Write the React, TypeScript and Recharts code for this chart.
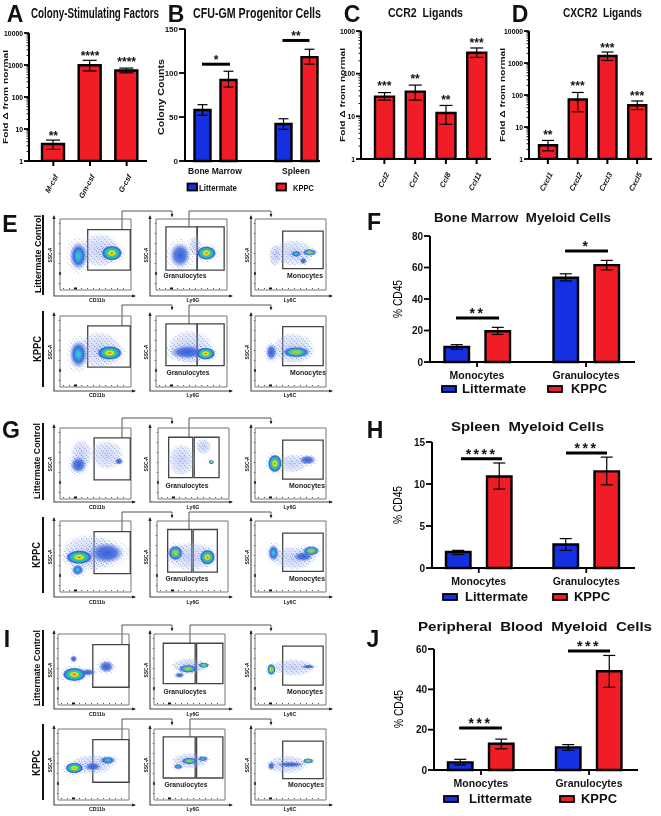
import React from "react";
import {
  BarChart,
  Bar,
  ErrorBar,
  XAxis,
  YAxis,
  ReferenceLine,
  ReferenceDot,
  ReferenceArea,
  ScatterChart,
  Scatter,
} from "recharts";

const SANS = '"Liberation Sans", Arial, sans-serif';
const NARROW = '"Liberation Sans Narrow", "Liberation Sans", Arial, sans-serif';
const RED = "#f01c26";
const BLUE = "#1530e0";

// ---- bar panels: fold change (log axes) ----
const aCategories = ["M-csf", "Gm-csf", "G-csf"];
const aValues = [3.4, 980, 670];
const aLows = [2.3, 650, 570];
const aHighs = [4.5, 1400, 800];
const aStars = ["**", "****", "****"];
const aStarLevels = [7.5, 2370, 1550];

const cCategories = ["Ccl2", "Ccl7", "Ccl8", "Ccl11"];
const cValues = [29, 38, 12, 310];
const cLows = [24, 24, 6.5, 240];
const cHighs = [36, 54, 18, 400];
const cStars = ["***", "**", "**", "***"];
const cStarLevels = [60, 88, 28, 616];

const dCategories = ["Cxcl1", "Cxcl2", "Cxcl3", "Cxcl5"];
const dValues = [2.7, 72, 1650, 48];
const dLows = [1.8, 30, 1200, 35];
const dHighs = [3.8, 120, 2200, 65];
const dStars = ["**", "***", "***", "***"];
const dStarLevels = [7, 237, 3650, 115];

// ---- bar panels: littermate vs KPPC ----
// sig spans are fractions of the plot width
const bCategories = ["Bone Marrow", "Spleen"];
const bLittermate = [58, 42];
const bLittermateLows = [52, 36];
const bLittermateHighs = [64, 48];
const bKppc = [92, 118];
const bKppcLows = [84, 110];
const bKppcHighs = [102, 127];
const bSig = [
  { from: 0.126, to: 0.333, level: 110, stars: "*" },
  { from: 0.722, to: 0.922, level: 137, stars: "**" },
];

const cellCategories = ["Monocytes", "Granulocytes"];

const fLittermate = [9.5, 53.5];
const fLittermateLows = [8, 51.5];
const fLittermateHighs = [11, 56];
const fKppc = [19.5, 61.5];
const fKppcLows = [17.5, 58.5];
const fKppcHighs = [22, 64.5];
const fSig = [
  { from: 0.127, to: 0.337, level: 28, stars: "**" },
  { from: 0.659, to: 0.868, level: 70.5, stars: "*" },
];

const hLittermate = [1.9, 2.8];
const hLittermateLows = [1.6, 2.1];
const hLittermateHighs = [2.1, 3.5];
const hKppc = [10.9, 11.5];
const hKppcLows = [9.4, 9.9];
const hKppcHighs = [12.5, 13.2];
const hSig = [
  { from: 0.143, to: 0.345, level: 13, stars: "****" },
  { from: 0.66, to: 0.862, level: 13.7, stars: "***" },
];

const jLittermate = [3.8, 11.2];
const jLittermateLows = [2.5, 9.8];
const jLittermateHighs = [5.3, 12.6];
const jKppc = [13, 49];
const jKppcLows = [10.5, 41];
const jKppcHighs = [15.3, 56.8];
const jSig = [
  { from: 0.123, to: 0.333, level: 20.8, stars: "***" },
  { from: 0.657, to: 0.863, level: 59, stars: "***" },
];

// ---- flow plots: population centre x, y, spread x, spread y, density level ----
type Blob = [number, number, number, number, number];
type Gate = [number, number, number, number];

const eLittermateBlobs: Blob[][] = [
  [[56, 56, 30, 26, 0], [26, 48, 13, 20, 2], [73, 52, 15, 11, 4]],
  [[55, 62, 10, 16, 0], [34, 49, 15, 18, 1], [71, 52, 14, 10, 4]],
  [[54, 52, 32, 20, 0], [28, 49, 9, 17, 0], [58, 51, 8, 5, 2], [68, 41, 5, 5, 1], [77, 53, 10, 5, 3]],
];
const eKppcBlobs: Blob[][] = [
  [[56, 52, 34, 28, 0], [26, 46, 13, 20, 2], [70, 48, 18, 10, 4]],
  [[48, 56, 35, 26, 0], [44, 49, 25, 10, 1], [70, 47, 14, 9, 4]],
  [[54, 54, 32, 24, 0], [23, 49, 8, 12, 1], [58, 49, 20, 8, 3]],
];
const gLittermateBlobs: Blob[][] = [
  [[30, 64, 16, 21, 0], [66, 62, 25, 22, 0], [26, 48, 12, 12, 1], [83, 53, 6, 5, 1]],
  [[33, 55, 20, 24, 0], [64, 74, 12, 12, 0], [75, 52, 4, 3, 3]],
  [[53, 50, 23, 14, 0], [74, 55, 12, 7, 1], [28, 50, 10, 13, 4]],
];
const gKppcBlobs: Blob[][] = [
  [[42, 55, 44, 28, 0], [66, 55, 25, 15, 1], [25, 31, 9, 8, 2], [27, 49, 19, 10, 4]],
  [[49, 50, 38, 22, 0], [26, 55, 11, 11, 3], [71, 49, 11, 11, 4]],
  [[54, 48, 32, 18, 0], [68, 50, 14, 7, 1], [26, 55, 8, 12, 2], [79, 58, 12, 7, 3]],
];
const iLittermateBlobs: Blob[][] = [
  [[42, 46, 11, 5, 1], [22, 65, 5, 5, 1], [68, 54, 11, 9, 1], [23, 43, 17, 10, 4]],
  [[50, 55, 28, 12, 0], [36, 42, 7, 4, 1], [48, 51, 14, 6, 3], [70, 56, 8, 4, 3]],
  [[54, 53, 33, 13, 0], [75, 54, 10, 3, 1], [23, 50, 6, 8, 4]],
];
const iKppcBlobs: Blob[][] = [
  [[48, 50, 33, 15, 0], [49, 47, 12, 6, 1], [70, 56, 12, 6, 2], [23, 45, 13, 8, 4]],
  [[50, 55, 28, 12, 0], [34, 47, 7, 4, 2], [69, 58, 8, 4, 2], [50, 55, 12, 5, 3]],
  [[45, 50, 30, 14, 0], [50, 50, 20, 4, 1], [23, 48, 5, 6, 1], [75, 55, 8, 4, 3]],
];

const eLittermateGates: Gate[][] = [
  [[39, 99, 28, 85]],
  [[14, 58, 28, 89], [58, 96, 28, 89]],
  [[39, 96, 30, 83]],
];
const eKppcGates: Gate[][] = [
  [[39, 99, 28, 86]],
  [[14, 58, 30, 89], [58, 96, 30, 89]],
  [[39, 96, 30, 85]],
];
const gLittermateGates: Gate[][] = [
  [[48, 99, 27, 86]],
  [[15, 49, 30, 87], [51, 86, 30, 87]],
  [[39, 96, 28, 83]],
];
const gKppcGates: Gate[][] = [
  [[48, 99, 26, 85]],
  [[15, 49, 28, 88], [51, 85, 28, 88]],
  [[39, 96, 29, 83]],
];
const iLittermateGates: Gate[][] = [
  [[49, 100, 25, 85]],
  [[13, 58, 30, 87], [60, 97, 30, 87]],
  [[39, 96, 28, 83]],
];
const iKppcGates: Gate[][] = [
  [[49, 100, 25, 85]],
  [[13, 58, 31, 89], [60, 97, 31, 89]],
  [[39, 96, 30, 83]],
];

const FRAME_SIZE = 71;
const AXIS_XS = [54, 150, 251];
const AXIS_ENDS = [135, 232, 332];

const flowRows = [
  {
    frameY: 219, axisY: 296, xLabelY: 300, cellLabelY: 275, busY: 211, arrowY: 216,
    frameXs: [60, 156, 255], cellLabelXs: [185, 305], gateTops: [230, 227],
    axisLabels: ["CD11b", "Ly6G", "Ly6C"], blobs: eLittermateBlobs, gates: eLittermateGates,
  },
  {
    frameY: 316, axisY: 391, xLabelY: 395, cellLabelY: 372, busY: 305, arrowY: 309,
    frameXs: [60, 156, 255], cellLabelXs: [188, 308], gateTops: [326, 324],
    axisLabels: ["CD11b", "Ly6G", "Ly6C"], blobs: eKppcBlobs, gates: eKppcGates,
  },
  {
    frameY: 428, axisY: 502, xLabelY: 507, cellLabelY: 485, busY: 418, arrowY: 423,
    frameXs: [60, 158, 255], cellLabelXs: [187, 307], gateTops: [438, 437],
    axisLabels: ["CD11b", "Ly6G", "Ly6G"], blobs: gLittermateBlobs, gates: gLittermateGates,
  },
  {
    frameY: 521, axisY: 597, xLabelY: 602, cellLabelY: 578, busY: 512, arrowY: 517,
    frameXs: [60, 157, 255], cellLabelXs: [187, 307], gateTops: [532, 530],
    axisLabels: ["CD11b", "Ly6G", "Ly6C"], blobs: gKppcBlobs, gates: gKppcGates,
  },
  {
    frameY: 634, axisY: 709, xLabelY: 714, cellLabelY: 691, busY: 625, arrowY: 630,
    frameXs: [58, 154, 255], cellLabelXs: [185, 305], gateTops: [645, 643],
    axisLabels: ["CD11b", "Ly6G", "Ly6C"], blobs: iLittermateBlobs, gates: iLittermateGates,
  },
  {
    frameY: 729, axisY: 805, xLabelY: 809, cellLabelY: 784, busY: 719, arrowY: 724,
    frameXs: [58, 154, 255], cellLabelXs: [186, 306], gateTops: [740, 737],
    axisLabels: ["CD11b", "Ly6G", "Ly6C"], blobs: iKppcBlobs, gates: iKppcGates,
  },
];

const LOG_MINORS = [1, 2, 3, 4, 5, 6, 7, 8, 9];
const logTicks = (max: number) => {
  const out: number[] = [];
  for (let d = 1; d < max; d *= 10) LOG_MINORS.forEach((m) => out.push(m * d));
  out.push(max);
  return out;
};

const LogTick = (props: any) => {
  const { x, y, payload } = props;
  const v = payload.value;
  const major = String(v).replace(/0/g, "") === "1";
  return (
    <g>
      <line x1={x} x2={x - (major ? 5 : 2.5)} y1={y} y2={y} stroke="#000" strokeWidth={major ? 1.8 : 0.9} />
      {major && (
        <text x={x - 6} y={y} textAnchor="end" dominantBaseline="central" fontSize={6.8} fontWeight={700} fill="#000" fontFamily={SANS}>
          {v}
        </text>
      )}
    </g>
  );
};

const RotatedTick = (props: any) => {
  const { x, y, payload } = props;
  return (
    <text
      transform={`translate(${x + 3},${y + 7}) rotate(-62)`}
      textAnchor="end"
      dominantBaseline="central"
      fontSize={7.5}
      fontWeight={700}
      fontStyle="italic"
      fill="#111"
      fontFamily={SANS}
    >
      {payload.value}
    </text>
  );
};

const starShape = (stars: string, size: number, spacing: number, lift: number) => (p: any) => (
  <text
    x={p.cx}
    y={p.cy + lift}
    textAnchor="middle"
    fontSize={size}
    fontWeight={700}
    letterSpacing={spacing}
    fill="#111"
    fontFamily={SANS}
  >
    {stars}
  </text>
);

type LogProps = {
  left: number; top: number; width: number; axisWidth: number;
  marginTop: number; marginRight: number; padLeft: number; padRight: number;
  barSize: number; capWidth: number; max: number;
  categories: string[]; values: number[]; lows: number[]; highs: number[];
  stars: string[]; starLevels: number[];
};

function LogPanel(p: LogProps) {
  const rows = p.categories.map((name, i) => ({
    name,
    value: p.values[i],
    err: [p.values[i] - p.lows[i], p.highs[i] - p.values[i]],
  }));
  const height = p.marginTop + 128 + 39;
  return (
    <div style={{ position: "absolute", left: p.left, top: p.top }}>
      <BarChart
        width={p.width}
        height={height}
        data={rows}
        margin={{ top: p.marginTop, right: p.marginRight, left: 0, bottom: 0 }}
      >
        <XAxis
          dataKey="name"
          height={39}
          interval={0}
          padding={{ left: p.padLeft, right: p.padRight }}
          axisLine={{ stroke: "#000", strokeWidth: 2 }}
          tickLine={{ stroke: "#000", strokeWidth: 2 }}
          tickSize={5}
          tick={<RotatedTick />}
        />
        <YAxis
          width={p.axisWidth}
          scale="log"
          domain={[1, p.max]}
          ticks={logTicks(p.max)}
          interval={0}
          allowDataOverflow
          axisLine={{ stroke: "#000", strokeWidth: 2 }}
          tickLine={false}
          tickSize={0}
          tickMargin={0}
          tick={<LogTick />}
        />
        <Bar dataKey="value" fill={RED} stroke="#000" strokeWidth={2.4} barSize={p.barSize} isAnimationActive={false}>
          <ErrorBar dataKey="err" width={p.capWidth} stroke="#000" strokeWidth={1.2} isAnimationActive={false} />
        </Bar>
        {p.categories.map((name, i) => (
          <ReferenceDot
            key={name}
            x={name}
            y={p.starLevels[i]}
            r={0}
            ifOverflow="visible"
            shape={starShape(p.stars[i], 12, 0, 7)}
          />
        ))}
      </BarChart>
    </div>
  );
}

type GroupProps = {
  left: number; top: number; width: number; axisWidth: number;
  marginRight: number; plotHeight: number; axisHeight: number;
  padLeft: number; padRight: number; barSize: number; barGap: number; capWidth: number;
  max: number; ticks: number[];
  categories: string[];
  littermate: number[]; littermateLows: number[]; littermateHighs: number[];
  kppc: number[]; kppcLows: number[]; kppcHighs: number[];
  sig: { from: number; to: number; level: number; stars: string }[];
  starSize: number; starSpacing: number;
  tickFont: string; tickSize: number; catSize: number; xTicks: boolean;
};

function GroupPanel(p: GroupProps) {
  const rows = p.categories.map((name, i) => ({
    name,
    littermate: p.littermate[i],
    littermateErr: [p.littermate[i] - p.littermateLows[i], p.littermateHighs[i] - p.littermate[i]],
    kppc: p.kppc[i],
    kppcErr: [p.kppc[i] - p.kppcLows[i], p.kppcHighs[i] - p.kppc[i]],
  }));
  const height = 10 + p.plotHeight + p.axisHeight;
  return (
    <div style={{ position: "absolute", left: p.left, top: p.top }}>
      <BarChart
        width={p.width}
        height={height}
        data={rows}
        barGap={p.barGap}
        margin={{ top: 10, right: p.marginRight, left: 0, bottom: 0 }}
      >
        <XAxis
          dataKey="name"
          height={p.axisHeight}
          interval={0}
          padding={{ left: p.padLeft, right: p.padRight }}
          axisLine={{ stroke: "#000", strokeWidth: 2 }}
          tickLine={p.xTicks ? { stroke: "#000", strokeWidth: 1.8 } : false}
          tickSize={p.xTicks ? 5 : 3}
          tickMargin={p.xTicks ? 5 : 4}
          tick={{ fontSize: p.catSize, fontWeight: 700, fill: "#111", fontFamily: p.tickFont }}
        />
        <XAxis xAxisId="sig" type="number" domain={[0, 1]} hide />
        <YAxis
          width={p.axisWidth}
          domain={[0, p.max]}
          ticks={p.ticks}
          interval={0}
          axisLine={{ stroke: "#000", strokeWidth: 2 }}
          tickLine={{ stroke: "#000", strokeWidth: 1.8 }}
          tickSize={6}
          tickMargin={1}
          tick={{ fontSize: p.tickSize, fontWeight: 700, fill: "#111", fontFamily: p.tickFont }}
        />
        <Bar dataKey="littermate" fill={BLUE} stroke="#000" strokeWidth={2.4} barSize={p.barSize} isAnimationActive={false}>
          <ErrorBar dataKey="littermateErr" width={p.capWidth} stroke="#000" strokeWidth={1.2} isAnimationActive={false} />
        </Bar>
        <Bar dataKey="kppc" fill={RED} stroke="#000" strokeWidth={2.4} barSize={p.barSize} isAnimationActive={false}>
          <ErrorBar dataKey="kppcErr" width={p.capWidth} stroke="#000" strokeWidth={1.2} isAnimationActive={false} />
        </Bar>
        {p.sig.map((s) => (
          <ReferenceLine
            key={s.from}
            xAxisId="sig"
            stroke="#000"
            strokeWidth={3}
            ifOverflow="visible"
            segment={[
              { x: s.from, y: s.level },
              { x: s.to, y: s.level },
            ]}
          />
        ))}
        {p.sig.map((s) => (
          <ReferenceDot
            key={s.from}
            xAxisId="sig"
            x={(s.from + s.to) / 2}
            y={s.level}
            r={0}
            ifOverflow="visible"
            shape={starShape(s.stars, p.starSize, p.starSpacing, 0)}
          />
        ))}
      </BarChart>
    </div>
  );
}

// density level -> gradient or speckle fill
const blobShape = (scale: number) => (p: any) => {
  const { cx, cy, payload } = p;
  const rx = payload.sx * scale;
  const ry = payload.sy * scale;
  if (payload.level === 0) {
    return (
      <g>
        <ellipse cx={cx} cy={cy} rx={rx} ry={ry} fill="url(#density0)" />
        <ellipse cx={cx} cy={cy} rx={rx * 0.85} ry={ry * 0.85} fill="url(#speckle)" />
      </g>
    );
  }
  return (
    <g>
      <ellipse cx={cx} cy={cy} rx={rx * 1.3} ry={ry * 1.3} fill="url(#speckle)" />
      <ellipse cx={cx} cy={cy} rx={rx} ry={ry} fill={`url(#density${payload.level})`} />
    </g>
  );
};

function FlowPlot({ x, y, blobs, gates }: { x: number; y: number; blobs: Blob[]; gates: Gate[] }) {
  const rows = blobs.map(([cx, cy, sx, sy, level]) => ({ cx, cy, sx, sy, level }));
  return (
    <div style={{ position: "absolute", left: x - 1, top: y - 1 }}>
      <ScatterChart width={FRAME_SIZE + 2} height={FRAME_SIZE + 2} margin={{ top: 1, right: 1, bottom: 1, left: 1 }}>
        <XAxis type="number" dataKey="cx" domain={[0, 100]} hide />
        <YAxis type="number" dataKey="cy" domain={[0, 100]} hide />
        <Scatter data={rows} shape={blobShape(FRAME_SIZE / 100)} isAnimationActive={false} />
        <ReferenceArea x1={0} x2={100} y1={0} y2={100} fill="none" stroke="#777" strokeWidth={1} ifOverflow="visible" />
        {gates.map((g, i) => (
          <ReferenceArea key={i} x1={g[0]} x2={g[1]} y1={g[2]} y2={g[3]} fill="none" stroke="#444" strokeWidth={1.3} ifOverflow="visible" />
        ))}
      </ScatterChart>
    </div>
  );
}

type TextProps = {
  x: number; y: number; children: string; size: number; len?: number;
  rotate?: boolean; anchor?: string; font?: string; fill?: string; weight?: number;
};

function T({ x, y, children, size, len, rotate, anchor = "middle", font = SANS, fill = "#111", weight = 700 }: TextProps) {
  return (
    <text
      x={x}
      y={y}
      fontSize={size}
      fontWeight={weight}
      fontFamily={font}
      fill={fill}
      textAnchor={anchor}
      dominantBaseline="central"
      textLength={len}
      lengthAdjust={len ? "spacingAndGlyphs" : undefined}
      transform={rotate ? `rotate(-90 ${x} ${y})` : undefined}
      style={{ whiteSpace: "pre" }}
    >
      {children}
    </text>
  );
}

function LegendKey({ x, y, w, h = 6, color }: { x: number; y: number; w: number; h?: number; color: string }) {
  return <rect x={x} y={y - h / 2} width={w} height={h} fill={color} stroke="#000" strokeWidth={1.8} />;
}

function FlowOverlay() {
  return (
    <g>
      {flowRows.map((row, r) => (
        <g key={r}>
          {AXIS_XS.map((ax, c) => {
            const top = row.frameY - 3;
            const end = AXIS_ENDS[c];
            const fx = row.frameXs[c];
            const bottom = row.frameY + FRAME_SIZE;
            return (
              <g key={c}>
                <path d={`M${ax} ${top} V${row.axisY} H${end}`} fill="none" stroke="#444" strokeWidth={1.1} />
                <path d={`M${ax - 1.6} ${top + 3} L${ax} ${top - 1} L${ax + 1.6} ${top + 3} Z`} fill="#222" />
                <path d={`M${end - 3} ${row.axisY - 1.6} L${end + 1} ${row.axisY} L${end - 3} ${row.axisY + 1.6} Z`} fill="#222" />
                <line x1={fx + 3} x2={fx + FRAME_SIZE - 4} y1={bottom - 1.5} y2={bottom - 1.5} stroke="#555" strokeWidth={1} strokeDasharray="1 5" />
                <line x1={fx - 0.5} x2={fx - 0.5} y1={row.frameY + 4} y2={bottom - 4} stroke="#555" strokeWidth={1.4} strokeDasharray="1 9" />
                <rect x={fx + 14} y={bottom - 2.5} width={3} height={2} fill="#111" />
                <rect x={fx - 1} y={bottom - 18} width={2} height={3} fill="#111" />
                <T x={ax - 4} y={(row.frameY + bottom) / 2 + 0.5} size={5} rotate len={15}>SSC-A</T>
                <T x={[97, 193, 290][c]} y={row.xLabelY} size={5.2}>{row.axisLabels[c]}</T>
              </g>
            );
          })}
          <T x={row.cellLabelXs[0]} y={row.cellLabelY} size={6.6} len={43} fill="#222">Granulocytes</T>
          <T x={row.cellLabelXs[1]} y={row.cellLabelY} size={6.6} len={36} fill="#222">Monocytes</T>
          <path d={`M122 ${row.gateTops[0]} V${row.busY} H172 V${row.arrowY}`} fill="none" stroke="#555" strokeWidth={1} />
          <path d={`M${r >= 4 ? 190 : 189} ${row.gateTops[1]} V${row.busY} H271 V${row.arrowY}`} fill="none" stroke="#555" strokeWidth={1} />
          <path d={`M170.6 ${row.arrowY - 2} L172 ${row.arrowY + 1.5} L173.4 ${row.arrowY - 2} Z`} fill="#222" />
          <path d={`M269.6 ${row.arrowY - 2} L271 ${row.arrowY + 1.5} L272.4 ${row.arrowY - 2} Z`} fill="#222" />
        </g>
      ))}
      <T x={37} y={254} size={9.5} rotate len={78}>Littermate Control</T>
      <rect x={42} y={215} width={2} height={80} fill="#111" />
      <T x={37} y={349} size={10} rotate len={26}>KPPC</T>
      <rect x={42} y={311} width={2} height={76} fill="#111" />
      <T x={36} y={461} size={9.5} rotate len={76}>Littermate Control</T>
      <rect x={42} y={423} width={2} height={77} fill="#111" />
      <T x={36} y={555} size={10} rotate len={26}>KPPC</T>
      <rect x={42} y={517} width={2} height={76} fill="#111" />
      <T x={36} y={668} size={9.5} rotate len={76}>Littermate Control</T>
      <rect x={42} y={630} width={2} height={76} fill="#111" />
      <T x={36} y={763} size={10} rotate len={26}>KPPC</T>
      <rect x={42} y={724} width={2} height={76} fill="#111" />
    </g>
  );
}

function Overlay() {
  return (
    <svg width={661} height={816} style={{ position: "absolute", left: 0, top: 0, pointerEvents: "none" }}>
      <defs>
        <radialGradient id="density0">
          <stop offset="0%" stopColor="#8ea6ec" stopOpacity={0.5} />
          <stop offset="70%" stopColor="#a9bbf0" stopOpacity={0.28} />
          <stop offset="100%" stopColor="#c4d0f4" stopOpacity={0} />
        </radialGradient>
        <radialGradient id="density1">
          <stop offset="0%" stopColor="#2f62dc" />
          <stop offset="55%" stopColor="#3b62d8" stopOpacity={0.8} />
          <stop offset="100%" stopColor="#6f8ee6" stopOpacity={0} />
        </radialGradient>
        <radialGradient id="density2">
          <stop offset="0%" stopColor="#3bd0a8" />
          <stop offset="22%" stopColor="#2fb6e0" />
          <stop offset="55%" stopColor="#2f5fd8" stopOpacity={0.9} />
          <stop offset="100%" stopColor="#6f8ee6" stopOpacity={0} />
        </radialGradient>
        <radialGradient id="density3">
          <stop offset="0%" stopColor="#e6b41e" />
          <stop offset="25%" stopColor="#8fd040" />
          <stop offset="48%" stopColor="#2fbcc0" />
          <stop offset="72%" stopColor="#2f5fd8" stopOpacity={0.9} />
          <stop offset="100%" stopColor="#6f8ee6" stopOpacity={0} />
        </radialGradient>
        <radialGradient id="density4">
          <stop offset="0%" stopColor="#ee2418" />
          <stop offset="10%" stopColor="#f2a41c" />
          <stop offset="24%" stopColor="#e6e626" />
          <stop offset="44%" stopColor="#34d05c" />
          <stop offset="62%" stopColor="#22b0e4" />
          <stop offset="82%" stopColor="#2b50d4" stopOpacity={0.9} />
          <stop offset="100%" stopColor="#6f8ee6" stopOpacity={0} />
        </radialGradient>
        <pattern id="speckle" width={5} height={5} patternUnits="userSpaceOnUse">
          <rect x={0.5} y={1} width={0.8} height={0.8} fill="#3552c8" opacity={0.65} />
          <rect x={3} y={0} width={0.7} height={0.7} fill="#4a66d4" opacity={0.5} />
          <rect x={2} y={3} width={0.8} height={0.8} fill="#3552c8" opacity={0.6} />
          <rect x={4.2} y={4} width={0.7} height={0.7} fill="#4a66d4" opacity={0.5} />
        </pattern>
      </defs>

      <T x={95} y={13} size={14} font={NARROW} len={128}>Colony-Stimulating Factors</T>
      <T x={257} y={12.5} size={14} font={NARROW} len={128}>CFU-GM Progenitor Cells</T>
      <T x={425.5} y={12} size={13} font={NARROW} len={75}>CCR2  Ligands</T>
      <T x={602.5} y={12.5} size={13} font={NARROW} len={79}>CXCR2  Ligands</T>

      <T x={15} y={13.5} size={23}>A</T>
      <T x={176} y={13.5} size={23}>B</T>
      <T x={352} y={13.5} size={23}>C</T>
      <T x={520} y={13.5} size={23}>D</T>
      <T x={10} y={224} size={23}>E</T>
      <T x={374} y={222} size={23}>F</T>
      <T x={11} y={430} size={23}>G</T>
      <T x={375} y={430} size={23}>H</T>
      <T x={7} y={639} size={23}>I</T>
      <T x={373} y={639} size={23}>J</T>

      <T x={5} y={97} size={7} rotate len={94}>Fold Δ from normal</T>
      <T x={161} y={97} size={8.5} rotate len={76}>Colony Counts</T>
      <T x={342} y={95} size={7} rotate len={94}>Fold Δ from normal</T>
      <T x={502} y={95} size={7} rotate len={94}>Fold Δ from normal</T>

      <LegendKey x={187.5} y={187} w={9.5} h={7} color={BLUE} />
      <T x={218} y={187} size={9.5} font={NARROW} len={38}>Littermate</T>
      <LegendKey x={276.5} y={187} w={9.5} h={7} color={RED} />
      <T x={303.5} y={187} size={9.5} font={NARROW} len={21}>KPPC</T>

      <T x={522.5} y={218} size={12} len={177}>Bone Marrow  Myeloid Cells</T>
      <T x={398} y={299} size={12} weight={400} fill="#000" rotate len={38}>% CD45</T>
      <LegendKey x={442} y={389} w={14} color={BLUE} />
      <T x={494} y={389} size={12} len={64}>Littermate</T>
      <LegendKey x={548} y={389} w={14} color={RED} />
      <T x={589} y={389} size={12} len={36}>KPPC</T>

      <T x={527.5} y={427} size={12} len={153}>Spleen  Myeloid Cells</T>
      <T x={398} y={505} size={12} weight={400} fill="#000" rotate len={38}>% CD45</T>
      <LegendKey x={443} y={597} w={14} color={BLUE} />
      <T x={496.5} y={597} size={12} len={63}>Littermate</T>
      <LegendKey x={553} y={597} w={14} color={RED} />
      <T x={592} y={597} size={12} len={36}>KPPC</T>

      <T x={535} y={627} size={12} len={234}>Peripheral  Blood  Myeloid  Cells</T>
      <T x={399} y={709} size={12} weight={400} fill="#000" rotate len={38}>% CD45</T>
      <LegendKey x={444} y={799} w={14} color={BLUE} />
      <T x={500.5} y={799} size={12} len={63}>Littermate</T>
      <LegendKey x={560} y={799} w={14} color={RED} />
      <T x={599} y={799} size={12} len={36}>KPPC</T>

      <FlowOverlay />
    </svg>
  );
}

export default function App() {
  return (
    <div style={{ position: "absolute", left: 0, top: 0, width: 661, height: 816, background: "#fff", overflow: "hidden", fontFamily: SANS, filter: "blur(0.35px)" }}>
      <Overlay />
      <LogPanel
        left={0} top={20} width={150} axisWidth={29} marginTop={13} marginRight={3}
        padLeft={6} padRight={2} barSize={22} capWidth={7} max={10000}
        categories={aCategories} values={aValues} lows={aLows} highs={aHighs}
        stars={aStars} starLevels={aStarLevels}
      />
      <GroupPanel
        left={150} top={19} width={173} axisWidth={35} marginRight={3} plotHeight={132} axisHeight={20}
        padLeft={-10.5} padRight={-16.5} barSize={16} barGap={10} capWidth={5}
        max={150} ticks={[0, 50, 100, 150]} categories={bCategories}
        littermate={bLittermate} littermateLows={bLittermateLows} littermateHighs={bLittermateHighs}
        kppc={bKppc} kppcLows={bKppcLows} kppcHighs={bKppcHighs} sig={bSig}
        starSize={12} starSpacing={0} tickFont={NARROW} tickSize={8} catSize={8.5} xTicks={false}
      />
      <LogPanel
        left={330} top={20} width={165} axisWidth={31} marginTop={11} marginRight={4}
        padLeft={8} padRight={-1} barSize={19} capWidth={6.5} max={1000}
        categories={cCategories} values={cValues} lows={cLows} highs={cHighs}
        stars={cStars} starLevels={cStarLevels}
      />
      <LogPanel
        left={495} top={20} width={160} axisWidth={34} marginTop={11} marginRight={3}
        padLeft={4} padRight={0} barSize={18} capWidth={6} max={10000}
        categories={dCategories} values={dValues} lows={dLows} highs={dHighs}
        stars={dStars} starLevels={dStarLevels}
      />
      {flowRows.map((row, r) =>
        row.frameXs.map((x, c) => (
          <FlowPlot key={`${r}-${c}`} x={x} y={row.frameY} blobs={row.blobs[c]} gates={row.gates[c]} />
        ))
      )}
      <GroupPanel
        left={395} top={226} width={245} axisWidth={35} marginRight={5} plotHeight={126} axisHeight={24}
        padLeft={-7.5} padRight={-5.5} barSize={24.5} barGap={16.5} capWidth={6}
        max={80} ticks={[0, 20, 40, 60, 80]} categories={cellCategories}
        littermate={fLittermate} littermateLows={fLittermateLows} littermateHighs={fLittermateHighs}
        kppc={fKppc} kppcLows={fKppcLows} kppcHighs={fKppcHighs} sig={fSig}
        starSize={14} starSpacing={2.5} tickFont={SANS} tickSize={10} catSize={10.5} xTicks
      />
      <GroupPanel
        left={395} top={432} width={245} axisWidth={37} marginRight={5} plotHeight={126} axisHeight={24}
        padLeft={-7} padRight={-5} barSize={24.5} barGap={16.5} capWidth={6}
        max={15} ticks={[0, 5, 10, 15]} categories={cellCategories}
        littermate={hLittermate} littermateLows={hLittermateLows} littermateHighs={hLittermateHighs}
        kppc={hKppc} kppcLows={hKppcLows} kppcHighs={hKppcHighs} sig={hSig}
        starSize={14} starSpacing={2.5} tickFont={SANS} tickSize={10} catSize={10.5} xTicks
      />
      <GroupPanel
        left={395} top={639} width={248} axisWidth={39} marginRight={5} plotHeight={121} axisHeight={24}
        padLeft={-7} padRight={-5} barSize={24.5} barGap={16.5} capWidth={6}
        max={60} ticks={[0, 20, 40, 60]} categories={cellCategories}
        littermate={jLittermate} littermateLows={jLittermateLows} littermateHighs={jLittermateHighs}
        kppc={jKppc} kppcLows={jKppcLows} kppcHighs={jKppcHighs} sig={jSig}
        starSize={14} starSpacing={2.5} tickFont={SANS} tickSize={10} catSize={10.5} xTicks
      />
    </div>
  );
}
